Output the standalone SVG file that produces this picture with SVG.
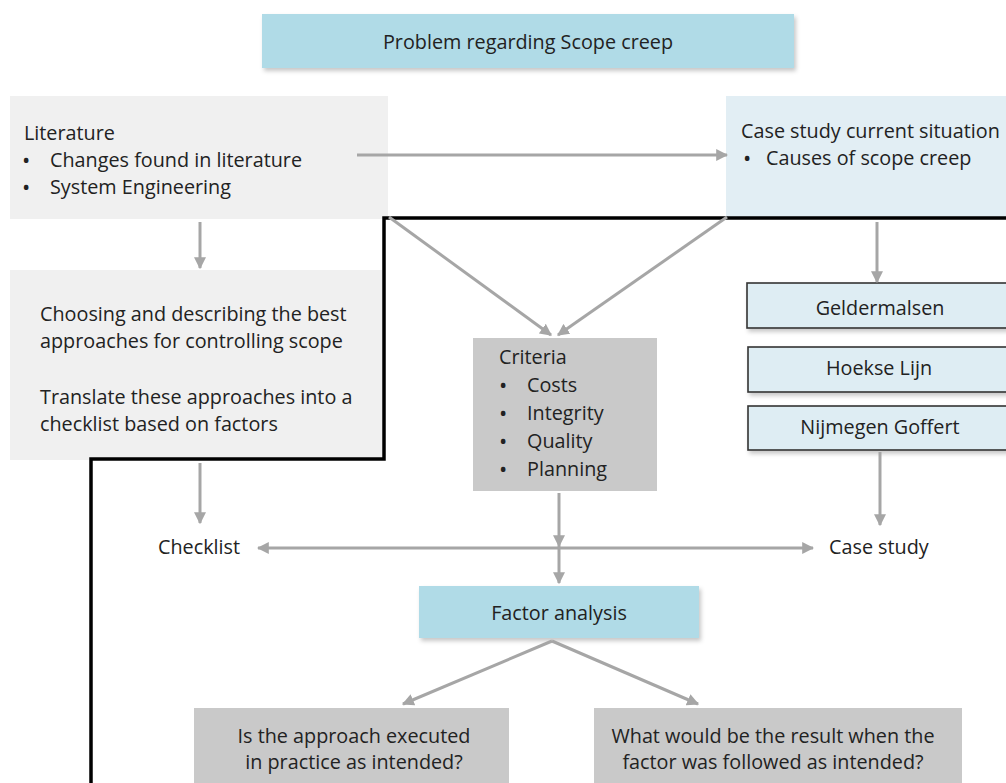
<svg xmlns="http://www.w3.org/2000/svg" width="1006" height="783" viewBox="0 0 1006 783">
  <style>
    text { font-family: "Open Sans", "Noto Sans", "Liberation Sans", sans-serif; font-size: 19.8px; fill: #222222; }
    .mid { text-anchor: middle; }
    .dot { font-size: 22px; }
    .arrow { stroke: #a6a6a6; stroke-width: 3; fill: none; }
    .blue { fill: #b0dbe7; }
    .pale { fill: #f0f0f0; }
    .paleblue { fill: #e2eef4; }
    .grey { fill: #c9c9c9; }
    .site { fill: #deedf3; stroke: #333333; stroke-width: 1.6; }
    .frame { stroke: #000000; stroke-width: 3.5; fill: none; }
  </style>
  <defs>
    <marker id="head" viewBox="0 0 10 10" refX="9" refY="5" markerWidth="12" markerHeight="12" markerUnits="userSpaceOnUse" orient="auto-start-reverse">
      <path d="M0,0 L10,5 L0,10 z" fill="#a6a6a6"/>
    </marker>
    <filter id="shadow" x="-10%" y="-20%" width="120%" height="160%">
      <feDropShadow dx="2" dy="3" stdDeviation="2" flood-color="#000000" flood-opacity="0.22"/>
    </filter>
  </defs>
  <rect width="1006" height="783" fill="#ffffff"/>

  <!-- nodes -->
  <g id="problem">
    <rect class="blue" x="262" y="14" width="532" height="54" filter="url(#shadow)"/>
    <text class="mid" x="528" y="49">Problem regarding Scope creep</text>
  </g>

  <g id="literature">
    <rect class="pale" x="10" y="96" width="378" height="123"/>
    <text x="24" y="140">Literature</text>
    <text class="dot" x="22" y="168">•</text>
    <text x="50" y="167">Changes found in literature</text>
    <text class="dot" x="22" y="195">•</text>
    <text x="50" y="194">System Engineering</text>
  </g>

  <g id="case-study-current">
    <rect class="paleblue" x="726" y="96" width="290" height="121"/>
    <text x="741" y="138">Case study current situation</text>
    <text class="dot" x="743" y="166">•</text>
    <text x="766" y="165">Causes of scope creep</text>
  </g>

  <g id="approaches">
    <rect class="pale" x="10" y="270" width="372" height="190"/>
    <text x="40" y="321">Choosing and describing the best</text>
    <text x="40" y="348">approaches for controlling scope</text>
    <text x="40" y="404">Translate these approaches into a</text>
    <text x="40" y="431">checklist based on factors</text>
  </g>

  <g id="criteria">
    <rect class="grey" x="473" y="338" width="184" height="153"/>
    <text x="499" y="364">Criteria</text>
    <text class="dot" x="499" y="393">•</text>
    <text x="527" y="392">Costs</text>
    <text class="dot" x="499" y="421">•</text>
    <text x="527" y="420">Integrity</text>
    <text class="dot" x="499" y="449">•</text>
    <text x="527" y="448">Quality</text>
    <text class="dot" x="499" y="477">•</text>
    <text x="527" y="476">Planning</text>
  </g>

  <g id="geldermalsen">
    <rect class="site" x="747" y="283" width="266" height="45" filter="url(#shadow)"/>
    <text class="mid" x="880" y="315">Geldermalsen</text>
  </g>
  <g id="hoekse-lijn">
    <rect class="site" x="748" y="347" width="265" height="45" filter="url(#shadow)"/>
    <text class="mid" x="879" y="375">Hoekse Lijn</text>
  </g>
  <g id="nijmegen-goffert">
    <rect class="site" x="748" y="406" width="265" height="44" filter="url(#shadow)"/>
    <text class="mid" x="880" y="434">Nijmegen Goffert</text>
  </g>

  <g id="checklist">
    <text x="158" y="554">Checklist</text>
  </g>
  <g id="case-study">
    <text x="829" y="554">Case study</text>
  </g>

  <g id="factor-analysis">
    <rect class="blue" x="419" y="586" width="280" height="52" filter="url(#shadow)"/>
    <text class="mid" x="559" y="620">Factor analysis</text>
  </g>

  <g id="question-practice">
    <rect class="grey" x="194" y="708" width="315" height="80"/>
    <text class="mid" x="354" y="743">Is the approach executed</text>
    <text class="mid" x="354" y="769">in practice as intended?</text>
  </g>
  <g id="question-result">
    <rect class="grey" x="594" y="708" width="368" height="80"/>
    <text class="mid" x="773" y="743">What would be the result when the</text>
    <text class="mid" x="773" y="769">factor was followed as intended?</text>
  </g>

  <!-- boundary line -->
  <g id="boundary">
    <polyline class="frame" points="1010,218 384,218 384,459 91,459 91,790"/>
  </g>

  <!-- connectors -->
  <g id="connectors">
    <line class="arrow" x1="357" y1="155" x2="727" y2="155" marker-end="url(#head)"/>
    <line class="arrow" x1="200" y1="222" x2="200" y2="268" marker-end="url(#head)"/>
    <line class="arrow" x1="389" y1="217" x2="551" y2="335" marker-end="url(#head)"/>
    <line class="arrow" x1="727" y1="217" x2="558" y2="335" marker-end="url(#head)"/>
    <line class="arrow" x1="877" y1="222" x2="877" y2="282" marker-end="url(#head)"/>
    <line class="arrow" x1="200" y1="463" x2="200" y2="523" marker-end="url(#head)"/>
    <line class="arrow" x1="880" y1="452" x2="880" y2="525" marker-end="url(#head)"/>
    <line class="arrow" x1="559" y1="493" x2="559" y2="546" marker-end="url(#head)"/>
    <line class="arrow" x1="559" y1="546" x2="559" y2="583" marker-end="url(#head)"/>
    <line class="arrow" x1="258" y1="548" x2="813" y2="548" marker-start="url(#head)" marker-end="url(#head)"/>
    <line class="arrow" x1="552" y1="641" x2="403" y2="704" marker-end="url(#head)"/>
    <line class="arrow" x1="552" y1="641" x2="698" y2="704" marker-end="url(#head)"/>
  </g>
</svg>
